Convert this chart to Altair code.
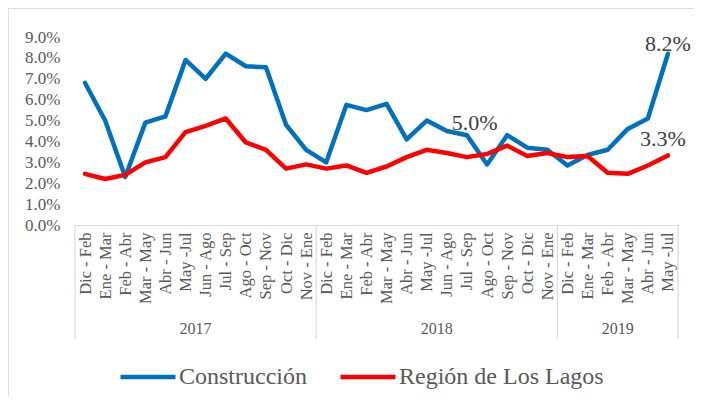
import altair as alt
import pandas as pd

years = ["2017", "2018", "2019"]
periods_2017 = ["Dic - Feb", "Ene - Mar", "Feb - Abr", "Mar - May", "Abr - Jun", "May -Jul",
                "Jun - Ago", "Jul - Sep", "Ago - Oct", "Sep - Nov", "Oct - Dic", "Nov - Ene"]
periods_2018 = ["Dic - Feb", "Ene - Mar", "Feb - Abr", "Mar - May", "Abr - Jun", "May -Jul",
                "Jun - Ago", "Jul - Sep", "Ago - Oct", "Sep - Nov", "Oct - Dic", "Nov - Ene"]
periods_2019 = ["Dic - Feb", "Ene - Mar", "Feb - Abr", "Mar - May", "Abr - Jun", "May -Jul"]

construccion = [6.8, 5.0, 2.3, 4.9, 5.2, 7.9, 7.0, 8.2, 7.6, 7.55, 4.8, 3.6,
                3.0, 5.75, 5.5, 5.8, 4.1, 5.0, 4.5, 4.3, 2.9, 4.3, 3.7, 3.6,
                2.85, 3.35, 3.6, 4.6, 5.1, 8.2]
lagos = [2.45, 2.2, 2.4, 3.0, 3.25, 4.45, 4.75, 5.1, 3.95, 3.6, 2.7, 2.9,
         2.7, 2.85, 2.5, 2.8, 3.25, 3.6, 3.45, 3.25, 3.4, 3.8, 3.3, 3.45,
         3.25, 3.3, 2.5, 2.45, 2.85, 3.33]

series_names = ["Construcción", "Región de Los Lagos"]
series_colors = ["#0070C0", "#FF0000"]
y_ticks = [0, 1, 2, 3, 4, 5, 6, 7, 8, 9]

# ---- tables built from the arrays above ----
groups = [periods_2017, periods_2018, periods_2019]
labels = [p for g in groups for p in g]
year_of = [y for y, g in zip(years, groups) for _ in g]
n = len(labels)

rows = []
for name, vals in zip(series_names, [construccion, lagos]):
    for i, v in enumerate(vals):
        rows.append({"idx": i, "periodo": labels[i], "anio": year_of[i], "serie": name, "valor": v})
df = pd.DataFrame(rows)

bounds = [-0.5]
for g in groups:
    bounds.append(bounds[-1] + len(g))
df_bounds = pd.DataFrame({"idx": bounds})
df_years = pd.DataFrame({"anio": years,
                         "idx": [(bounds[k] + bounds[k + 1]) / 2 for k in range(len(years))]})

FONT = "Liberation Serif"
GRAY = "#595959"
W, H = 603, 188

label_js = "[" + ",".join("'" + s + "'" for s in labels) + "]"
xscale = alt.Scale(domain=[-0.5, n - 0.5], nice=False, zero=False)
yscale = alt.Scale(domain=[y_ticks[0], y_ticks[-1]], nice=False)

xaxis = alt.Axis(values=list(range(n)), labelExpr=label_js + "[datum.value]",
                 labelAngle=-90, labelFont=FONT, labelFontSize=16.5, labelColor=GRAY,
                 labelPadding=7, ticks=False, grid=False, domainColor="#d9d9d9",
                 domainWidth=1.2, title=None, labelOverlap=False, labelBound=False)
yaxis = alt.Axis(values=y_ticks, labelExpr="format(datum.value, '.1f') + '%'",
                 labelFont=FONT, labelFontSize=17, labelColor=GRAY, labelPadding=15,
                 ticks=False, domain=False, grid=False, title=None)

X = alt.X("idx:Q", scale=xscale, axis=xaxis)
Y = alt.Y("valor:Q", scale=yscale, axis=yaxis)

base = alt.Chart(df)

lines = base.mark_line(strokeWidth=4.5, strokeCap="round", strokeJoin="round").encode(
    x=X, y=Y,
    color=alt.Color("serie:N", scale=alt.Scale(domain=series_names, range=series_colors),
                    legend=alt.Legend(orient="none", direction="horizontal", legendX=43, legendY=310,
                                      title=None, symbolType="stroke", symbolSize=3025,
                                      symbolStrokeWidth=4.5, labelFont=FONT, labelFontSize=24,
                                      labelColor=GRAY, labelOffset=1, columnPadding=24,
                                      symbolOffset=0, labelLimit=400)),
    detail="serie:N",
)

lab_text = "format(datum.valor, '.1f') + '%'"

lab_a = base.transform_filter(
    (alt.datum.serie == series_names[0]) & (alt.datum.idx == n - 1)
).transform_calculate(t=lab_text).mark_text(
    font=FONT, fontSize=22, color="#404040", align="center", baseline="alphabetic", dy=-3
).encode(x=X, y=Y, text="t:N")

lab_b = base.transform_filter(
    (alt.datum.serie == series_names[1]) & (alt.datum.idx == n - 1)
).transform_calculate(t=lab_text).mark_text(
    font=FONT, fontSize=22, color="#404040", align="center", baseline="alphabetic", dx=-5, dy=-9
).encode(x=X, y=Y, text="t:N")

lab_c = base.transform_filter(
    (alt.datum.serie == series_names[0]) & (alt.datum.idx == len(periods_2017) + 5)
).transform_calculate(t=lab_text).mark_text(
    font=FONT, fontSize=22, color="#404040", align="left", baseline="alphabetic", dx=25, dy=9
).encode(x=X, y=Y, text="t:N")

group_lines = alt.Chart(df_bounds).mark_rule(color="#d9d9d9", strokeWidth=1.2).encode(
    x=X, y=alt.value(H), y2=alt.value(H + 114)
)

year_text = alt.Chart(df_years).mark_text(
    font=FONT, fontSize=16, color=GRAY, baseline="middle"
).encode(x=X, y=alt.value(H + 104), text="anio:N")

frame_top = alt.Chart(df_years).mark_rule(color="#d9d9d9", strokeWidth=1).encode(
    x=alt.value(-67), x2=alt.value(W + 16), y=alt.value(-29)
)
frame_left = alt.Chart(df_years).mark_rule(color="#d9d9d9", strokeWidth=1).encode(
    x=alt.value(-67), y=alt.value(-29), y2=alt.value(H + 171)
)

chart = alt.layer(frame_top, frame_left, group_lines, year_text, lines, lab_a, lab_b, lab_c).properties(
    width=W, height=H,
    autosize=alt.AutoSizeParams(type="none"),
    padding={"left": 67, "top": 29, "right": 16, "bottom": 171},
).configure_view(stroke=None)

chart.save("out.html", embed_options={"renderer": "svg", "actions": False})
